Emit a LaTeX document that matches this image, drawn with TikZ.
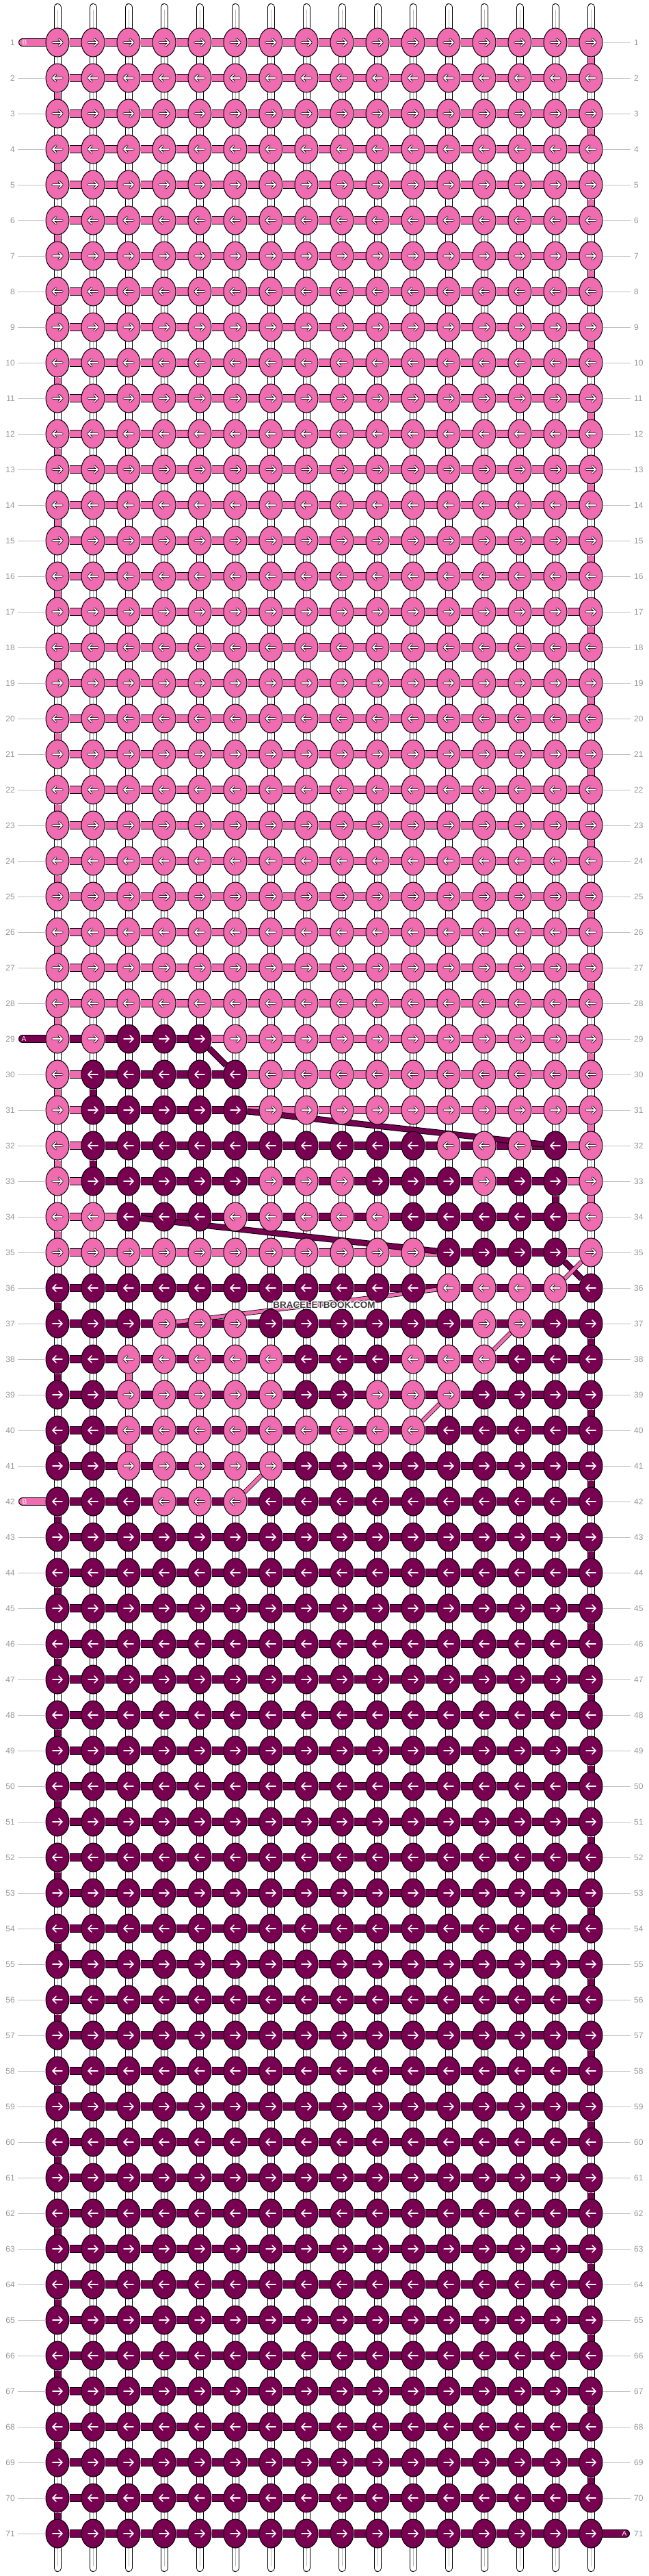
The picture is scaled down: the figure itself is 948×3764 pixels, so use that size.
\documentclass[tikz,border=0pt]{standalone}
\usepackage{fontspec}
\setmainfont{Liberation Sans}
\usetikzlibrary{shapes.geometric}
\definecolor{P}{RGB}{238,108,175}
\definecolor{D}{RGB}{120,0,80}
\definecolor{labgray}{RGB}{150,150,150}
\definecolor{linegray}{RGB}{192,192,192}
\definecolor{warpgray}{RGB}{185,185,185}
\definecolor{wmgray}{RGB}{60,60,60}
\pgfdeclarelayer{warp}\pgfdeclarelayer{seg}\pgfdeclarelayer{diag}
\pgfsetlayers{warp,seg,diag,main}
\tikzset{
 knot/.style={ellipse,draw=black,line width=1pt,minimum width=34pt,minimum height=42pt,inner sep=0pt},
 arrowout/.style={black,line width=3.2pt,line cap=round,line join=round},
 arrowin/.style={white,line width=1.6pt,line cap=round,line join=round},
 hseg/.style={draw=black,line width=1pt,double distance=10pt},
 vseg/.style={draw=black,line width=1pt,double distance=9pt},
 dseg/.style={draw=black,line width=1pt,double distance=7pt},
 pseg/.style={draw=black,line width=0.8pt,double distance=5pt},
 lab/.style={inner sep=0pt,text=labgray,font=\fontsize{12}{12}\selectfont},
 gline/.style={draw=linegray,line width=1pt},
 pilltxt/.style={inner sep=0pt,text=white,font=\fontsize{10}{10}\selectfont},
 wm/.style={inner sep=0pt,font=\fontsize{13.5}{13.5}\selectfont\bfseries},
}
\def\colP{P}
\newcommand\bbknot[3]{%
  \pgfmathsetmacro\kx{84+52*(#2-1)}%
  \pgfmathsetmacro\ky{62+52*(#1-1)}%
  \pgfmathsetmacro\kd{1-2*mod(#1+1,2)}%
  \pgfmathsetmacro\xa{\kx-7*\kd}%
  \pgfmathsetmacro\xb{\kx+7*\kd}%
  \pgfmathsetmacro\xh{\kx+2*\kd}%
  \pgfmathsetmacro\yu{\ky-5}%
  \pgfmathsetmacro\yd{\ky+5}%
  \node[knot,fill=#3] (k-#1-#2) at (\kx,\ky) {};
  \edef\kc{#3}%
  \ifx\kc\colP
    \draw[arrowout] (\xa,\ky) -- (\xb,\ky) (\xh,\yu) -- (\xb,\ky) -- (\xh,\yd);
  \fi
  \draw[arrowin] (\xa,\ky) -- (\xb,\ky) (\xh,\yu) -- (\xb,\ky) -- (\xh,\yd);
}
\begin{document}
\begin{tikzpicture}[x=1pt,y=-1pt]
\useasboundingbox (0,0) rectangle (948,3764);
% ---------- knots
\foreach \r in {1,...,28}{\foreach \c in {1,...,16}{\bbknot{\r}{\c}{P}}}
\foreach \s [count=\c] in {P,P,D,D,D,P,P,P,P,P,P,P,P,P,P,P}{\bbknot{29}{\c}{\s}}
\foreach \s [count=\c] in {P,D,D,D,D,D,P,P,P,P,P,P,P,P,P,P}{\bbknot{30}{\c}{\s}}
\foreach \s [count=\c] in {P,D,D,D,D,D,P,P,P,P,P,P,P,P,P,P}{\bbknot{31}{\c}{\s}}
\foreach \s [count=\c] in {P,D,D,D,D,D,D,D,D,D,D,P,P,P,D,P}{\bbknot{32}{\c}{\s}}
\foreach \s [count=\c] in {P,D,D,D,D,D,P,P,P,D,D,D,P,D,D,P}{\bbknot{33}{\c}{\s}}
\foreach \s [count=\c] in {P,P,D,D,D,P,P,P,P,P,D,D,D,D,D,P}{\bbknot{34}{\c}{\s}}
\foreach \s [count=\c] in {P,P,P,P,P,P,P,P,P,P,P,D,D,D,D,P}{\bbknot{35}{\c}{\s}}
\foreach \s [count=\c] in {D,D,D,D,D,D,D,D,D,D,D,P,P,P,P,D}{\bbknot{36}{\c}{\s}}
\foreach \s [count=\c] in {D,D,D,P,P,P,D,D,D,D,D,D,P,P,D,D}{\bbknot{37}{\c}{\s}}
\foreach \s [count=\c] in {D,D,P,P,P,P,P,D,D,D,P,P,P,D,D,D}{\bbknot{38}{\c}{\s}}
\foreach \s [count=\c] in {D,D,P,P,P,P,P,D,D,P,P,P,D,D,D,D}{\bbknot{39}{\c}{\s}}
\foreach \s [count=\c] in {D,D,P,P,P,P,P,P,P,P,P,D,D,D,D,D}{\bbknot{40}{\c}{\s}}
\foreach \s [count=\c] in {D,D,P,P,P,P,P,D,D,D,D,D,D,D,D,D}{\bbknot{41}{\c}{\s}}
\foreach \s [count=\c] in {D,D,D,P,P,P,D,D,D,D,D,D,D,D,D,D}{\bbknot{42}{\c}{\s}}
\foreach \r in {43,...,71}{\foreach \c in {1,...,16}{\bbknot{\r}{\c}{D}}}
% ---------- warps
\begin{pgfonlayer}{warp}
\foreach \c in {1,...,16}{
  \pgfmathsetmacro\wx{84+52*(\c-1)}
  \coordinate (wt-\c) at (\wx,10.5);
  \coordinate (wb-\c) at (\wx,3752.5);
  \draw[black,line width=11pt,line cap=round] (wt-\c) -- (wb-\c);
  \draw[white,line width=9pt,line cap=round] (wt-\c) -- (wb-\c);
  \draw[warpgray,line width=0.8pt] ([yshift=-3pt]wt-\c) -- ([yshift=3pt]wb-\c);
}
\end{pgfonlayer}
% ---------- weft segments
\begin{pgfonlayer}{seg}
\foreach \r [evaluate=\r as \rn using int(\r+1)] in {1,3,...,33}{\draw[vseg,double=P] (k-\r-16) -- (k-\rn-16);}
\foreach \r [evaluate=\r as \rn using int(\r+1)] in {37,39,...,69}{\draw[vseg,double=D] (k-\r-16) -- (k-\rn-16);}
\foreach \r [evaluate=\r as \rn using int(\r+1)] in {2,4,...,34}{\draw[vseg,double=P] (k-\r-1) -- (k-\rn-1);}
\foreach \r [evaluate=\r as \rn using int(\r+1)] in {36,38,...,70}{\draw[vseg,double=D] (k-\r-1) -- (k-\rn-1);}
\draw[vseg,double=D] (k-30-2) -- (k-31-2);
\draw[vseg,double=D] (k-32-2) -- (k-33-2);
\draw[vseg,double=D] (k-33-15) -- (k-34-15);
\draw[vseg,double=P] (k-38-3) -- (k-39-3);
\draw[vseg,double=P] (k-40-3) -- (k-41-3);
\foreach \r in {1,...,28}{\foreach \c [evaluate=\c as \cn using int(\c+1)] in {1,...,15}{\draw[hseg,double=P] (k-\r-\c) -- (k-\r-\cn);}}
\foreach \r in {36,...,71}{\foreach \c [evaluate=\c as \cn using int(\c+1)] in {1,...,15}{\draw[hseg,double=D] (k-\r-\c) -- (k-\r-\cn);}}
\foreach \s [count=\c] in {D,D,D,D,P,P,P,P,P,P,P,P,P,P,P}{\pgfmathtruncatemacro\cn{\c+1}\draw[hseg,double=\s] (k-29-\c) -- (k-29-\cn);}
\foreach \s [count=\c] in {P,D,D,D,D,P,P,P,P,P,P,P,P,P,P}{\pgfmathtruncatemacro\cn{\c+1}\draw[hseg,double=\s] (k-30-\c) -- (k-30-\cn);}
\foreach \s [count=\c] in {P,D,D,D,D,P,P,P,P,P,P,P,P,P,P}{\pgfmathtruncatemacro\cn{\c+1}\draw[hseg,double=\s] (k-31-\c) -- (k-31-\cn);}
\foreach \s [count=\c] in {P,D,D,D,D,D,D,D,D,D,D,D,D,D,P}{\pgfmathtruncatemacro\cn{\c+1}\draw[hseg,double=\s] (k-32-\c) -- (k-32-\cn);}
\foreach \s [count=\c] in {P,D,D,D,D,D,D,D,D,D,D,D,D,D,P}{\pgfmathtruncatemacro\cn{\c+1}\draw[hseg,double=\s] (k-33-\c) -- (k-33-\cn);}
\foreach \s [count=\c] in {P,P,D,D,D,D,D,D,D,D,D,D,D,D,P}{\pgfmathtruncatemacro\cn{\c+1}\draw[hseg,double=\s] (k-34-\c) -- (k-34-\cn);}
\foreach \s [count=\c] in {P,P,P,P,P,P,P,P,P,P,P,D,D,D,P}{\pgfmathtruncatemacro\cn{\c+1}\draw[hseg,double=\s] (k-35-\c) -- (k-35-\cn);}
% pills
\coordinate (pb1) at (33,62);
\coordinate (pa29) at (33,1518);
\coordinate (pb42) at (33,2194);
\coordinate (pa71) at (915,3702);
\draw[black,line width=12pt,line cap=round] (pb1) -- (k-1-1.center);
\draw[P,line width=10pt,line cap=round] (pb1) -- (k-1-1.center);
\draw[black,line width=12pt,line cap=round] (pa29) -- (k-29-1.center);
\draw[D,line width=10pt,line cap=round] (pa29) -- (k-29-1.center);
\draw[black,line width=12pt,line cap=round] (pb42) -- (k-42-1.center);
\draw[P,line width=10pt,line cap=round] (pb42) -- (k-42-1.center);
\draw[black,line width=12pt,line cap=round] (pa71) -- (k-71-16.center);
\draw[D,line width=10pt,line cap=round] (pa71) -- (k-71-16.center);
\end{pgfonlayer}
\node[pilltxt] (tb1) at (36,62) {B};
\node[pilltxt] (ta29) at (35,1518) {A};
\node[pilltxt] (tb42) at (36,2194) {B};
\node[pilltxt] (ta71) at (913,3702) {A};
% ---------- diagonals
\begin{pgfonlayer}{diag}
\draw[dseg,double=D] (k-29-5) -- (k-30-6);
\draw[dseg,double=D] (k-31-6) -- (k-32-15);
\draw[dseg,double=D] (k-34-3) -- (k-35-12);
\draw[dseg,double=D] (k-35-15) -- (k-36-16);
\draw[pseg,double=P] (k-35-16) -- (k-36-15);
\draw[pseg,double=P] (k-36-12) -- (k-37-4);
\draw[pseg,double=P] (k-37-14) -- (k-38-13);
\draw[pseg,double=P] (k-39-12) -- (k-40-11);
\draw[pseg,double=P] (k-41-7) -- (k-42-6);
\end{pgfonlayer}
% ---------- row labels
\foreach \r in {1,...,71}{
  \pgfmathsetmacro\ly{62+52*(\r-1)}
  \node[lab,anchor=east] (ll-\r) at (22,\ly) {\r};
  \node[lab,anchor=west] (lr-\r) at (927,\ly) {\r};
  \ifnum\r=1 \else\ifnum\r=29 \else\ifnum\r=42 \else
    \draw[gline] ([xshift=4pt]ll-\r.east) -- (k-\r-1.west);
  \fi\fi\fi
  \ifnum\r=71 \else
    \draw[gline] (k-\r-16.east) -- ([xshift=-5pt]lr-\r.west);
  \fi
}
% ---------- watermark
\foreach \dx/\dy [count=\i] in {1/0,-1/0,0/1,0/-1,1/1,-1/-1,1/-1,-1/1}{
  \node[wm,text=white] (wmh\i) at (474+\dx,1907+\dy) {BRACELETBOOK.COM};
}
\node[wm,text=wmgray] (wm) at (474,1907) {BRACELETBOOK.COM};
\end{tikzpicture}
\end{document}
